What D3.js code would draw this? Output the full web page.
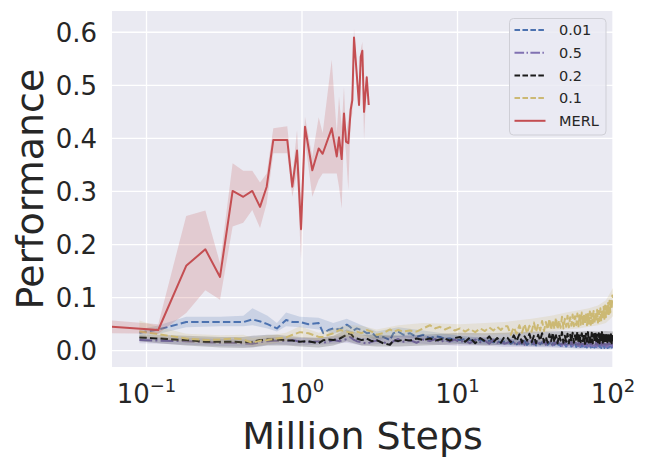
<!DOCTYPE html>
<html>
<head>
<meta charset="utf-8">
<script src="https://cdn.jsdelivr.net/npm/d3@7"></script>
<style>
  html, body { margin: 0; padding: 0; background: #fff; }
  svg { display: block; font-family: 'DejaVu Sans', sans-serif; }
</style>
</head>
<body>
<div id="chart"></div>
<script>
// baselines share one step grid (million steps)
const baseX = [0.09, 0.12, 0.18, 0.24, 0.3, 0.36, 0.42, 0.48, 0.54, 0.6,
  0.69, 0.79, 0.87, 0.97, 1.1, 1.28, 1.37, 1.48, 1.59, 1.75, 1.94, 2.04, 2.14, 2.25, 2.42, 2.61, 2.81, 3.02,
  3.33, 3.68, 3.87, 4.16, 4.48, 4.94, 5.45, 6.02, 6.65, 7.2, 7.71, 8.3, 8.93, 9.6, 10.4, 11.2, 12,
  13, 14, 15, 16, 17, 18, 19, 20,
  21, 22, 23, 24, 25, 26, 27, 28, 29, 30, 31, 32, 33, 34, 35, 36, 37, 38, 39, 40,
  41, 42, 43, 44, 45, 46, 47, 48, 49, 50, 51, 52, 53, 54, 55, 56, 57, 58, 59, 60,
  61, 62, 63, 64, 65, 66, 67, 68, 69, 70, 71, 72, 73, 74, 75, 76, 77, 78, 79, 80,
  81, 82, 83, 84, 85, 86, 87, 88, 89, 90, 91, 92, 93, 94, 95, 96, 97, 98, 99, 100]

const blue = [0.034, 0.040, 0.054, 0.054, 0.054, 0.054, 0.054, 0.059, 0.055, 0.050,
  0.042, 0.058, 0.054, 0.054, 0.050, 0.052, 0.033, 0.039, 0.042, 0.040, 0.049, 0.045, 0.038, 0.042, 0.039, 0.033, 0.034, 0.026,
  0.026, 0.020, 0.033, 0.036, 0.030, 0.033, 0.026, 0.030, 0.023, 0.027, 0.026, 0.022, 0.023, 0.020, 0.020, 0.022, 0.020,
  0.018, 0.021, 0.017, 0.019, 0.016, 0.018, 0.015, 0.017,
  0.018, 0.013, 0.017, 0.012, 0.016, 0.013, 0.018, 0.011, 0.015, 0.012, 0.016, 0.010, 0.015, 0.012, 0.016, 0.010, 0.014, 0.011, 0.015, 0.009,
  0.014, 0.011, 0.015, 0.010, 0.013, 0.009, 0.014, 0.010, 0.013, 0.008, 0.012, 0.010, 0.013, 0.008, 0.012, 0.009, 0.013, 0.007, 0.011, 0.009,
  0.012, 0.007, 0.011, 0.008, 0.012, 0.007, 0.010, 0.006, 0.011, 0.008, 0.010, 0.006, 0.011, 0.007, 0.010, 0.006, 0.009, 0.007, 0.010, 0.005,
  0.009, 0.007, 0.010, 0.005, 0.009, 0.006, 0.010, 0.005, 0.008, 0.007, 0.010, 0.005, 0.009, 0.006, 0.008, 0.005, 0.009, 0.006, 0.008, 0.007]

const purple = [0.020, 0.019, 0.018, 0.016, 0.015, 0.015, 0.014, 0.013, 0.016, 0.018,
  0.019, 0.018, 0.020, 0.017, 0.016, 0.018, 0.015, 0.017, 0.020, 0.018, 0.022, 0.026, 0.021, 0.018, 0.016, 0.013, 0.017, 0.019,
  0.016, 0.012, 0.018, 0.022, 0.017, 0.020, 0.015, 0.021, 0.018, 0.022, 0.016, 0.020, 0.017, 0.021, 0.016, 0.020, 0.014,
  0.021, 0.016, 0.019, 0.013, 0.020, 0.015, 0.018, 0.013,
  0.015, 0.019, 0.012, 0.018, 0.013, 0.020, 0.011, 0.017, 0.014, 0.019, 0.012, 0.018, 0.010, 0.016, 0.013, 0.019, 0.011, 0.017, 0.012, 0.018,
  0.010, 0.016, 0.013, 0.019, 0.011, 0.017, 0.009, 0.016, 0.012, 0.018, 0.010, 0.015, 0.012, 0.017, 0.009, 0.016, 0.011, 0.018, 0.010, 0.015,
  0.008, 0.016, 0.011, 0.017, 0.009, 0.015, 0.010, 0.016, 0.008, 0.014, 0.011, 0.017, 0.009, 0.015, 0.007, 0.014, 0.010, 0.016, 0.008, 0.013,
  0.010, 0.015, 0.007, 0.014, 0.009, 0.016, 0.008, 0.013, 0.010, 0.015, 0.007, 0.013, 0.009, 0.014, 0.008, 0.012, 0.010, 0.014, 0.008, 0.011]

const black = [0.025, 0.023, 0.020, 0.017, 0.017, 0.017, 0.016, 0.017, 0.020, 0.021,
  0.021, 0.020, 0.019, 0.017, 0.018, 0.014, 0.020, 0.021, 0.020, 0.023, 0.030, 0.033, 0.026, 0.023, 0.020, 0.023, 0.018, 0.020,
  0.014, 0.011, 0.020, 0.018, 0.021, 0.019, 0.023, 0.020, 0.023, 0.019, 0.021, 0.023, 0.019, 0.024, 0.026, 0.017, 0.025,
  0.014, 0.024, 0.018, 0.027, 0.016, 0.024, 0.015, 0.026,
  0.024, 0.016, 0.029, 0.018, 0.031, 0.015, 0.027, 0.019, 0.032, 0.016, 0.028, 0.014, 0.030, 0.019, 0.033, 0.016, 0.026, 0.015, 0.031, 0.018,
  0.034, 0.016, 0.029, 0.014, 0.030, 0.019, 0.035, 0.015, 0.028, 0.017, 0.032, 0.014, 0.030, 0.018, 0.034, 0.015, 0.029, 0.017, 0.036, 0.014,
  0.031, 0.016, 0.033, 0.018, 0.030, 0.013, 0.032, 0.017, 0.035, 0.015, 0.029, 0.016, 0.034, 0.014, 0.031, 0.018, 0.036, 0.015, 0.030, 0.016,
  0.033, 0.014, 0.031, 0.017, 0.035, 0.015, 0.030, 0.018, 0.034, 0.014, 0.032, 0.016, 0.029, 0.015, 0.033, 0.017, 0.031, 0.014, 0.030, 0.018]

const yellow = [0.036, 0.031, 0.023, 0.020, 0.021, 0.023, 0.021, 0.015, 0.019, 0.020,
  0.023, 0.025, 0.030, 0.035, 0.033, 0.026, 0.026, 0.030, 0.033, 0.039, 0.036, 0.034, 0.034, 0.036, 0.033, 0.039, 0.036, 0.030,
  0.033, 0.040, 0.036, 0.039, 0.036, 0.038, 0.036, 0.042, 0.048, 0.042, 0.045, 0.040, 0.044, 0.038, 0.042, 0.036, 0.041,
  0.035, 0.042, 0.037, 0.044, 0.038, 0.045, 0.039, 0.046,
  0.046, 0.030, 0.044, 0.032, 0.048, 0.034, 0.050, 0.033, 0.047, 0.036, 0.053, 0.035, 0.050, 0.038, 0.056, 0.037, 0.054, 0.040, 0.060, 0.039,
  0.058, 0.041, 0.062, 0.040, 0.057, 0.043, 0.064, 0.042, 0.060, 0.045, 0.066, 0.044, 0.063, 0.047, 0.068, 0.046, 0.065, 0.048, 0.070, 0.046,
  0.067, 0.049, 0.072, 0.047, 0.068, 0.050, 0.071, 0.048, 0.069, 0.051, 0.074, 0.049, 0.070, 0.052, 0.075, 0.050, 0.072, 0.054, 0.077, 0.053,
  0.075, 0.056, 0.080, 0.055, 0.078, 0.059, 0.083, 0.060, 0.085, 0.063, 0.088, 0.066, 0.090, 0.069, 0.094, 0.072, 0.098, 0.078, 0.104, 0.100]

// spread of the baseline runs, on a coarser grid
const bandX = [0.09, 0.12, 0.18, 0.3, 0.42, 0.48, 0.6, 0.69, 0.79, 0.97, 1.28, 1.59, 1.94, 2.42,
  3.02, 4.16, 6.02, 10.4, 15, 20, 30, 40, 50, 60, 70, 80, 90, 100]
const blueLo = [0.028, 0.032, 0.044, 0.046, 0.046, 0.048, 0.042, 0.036, 0.046, 0.044, 0.040, 0.032, 0.038, 0.030,
  0.020, 0.026, 0.022, 0.013, 0.012, 0.010, 0.008, 0.007, 0.005, 0.004, 0.004, 0.003, 0.003, 0.003]
const blueHi = [0.040, 0.048, 0.064, 0.064, 0.066, 0.080, 0.066, 0.052, 0.072, 0.064, 0.062, 0.052, 0.060, 0.048,
  0.036, 0.044, 0.038, 0.028, 0.024, 0.024, 0.020, 0.018, 0.016, 0.014, 0.014, 0.012, 0.013, 0.012]
const purpleLo = [0.014, 0.013, 0.011, 0.009, 0.008, 0.007, 0.011, 0.012, 0.011, 0.010, 0.011, 0.013, 0.015, 0.010,
  0.012, 0.014, 0.013, 0.009, 0.010, 0.007, 0.007, 0.006, 0.006, 0.004, 0.005, 0.003, 0.004, 0.004]
const purpleHi = [0.026, 0.025, 0.024, 0.022, 0.021, 0.020, 0.025, 0.026, 0.025, 0.024, 0.025, 0.027, 0.030, 0.024,
  0.026, 0.029, 0.028, 0.024, 0.026, 0.021, 0.022, 0.020, 0.021, 0.018, 0.019, 0.017, 0.018, 0.017]
const blackLo = [0.018, 0.014, 0.010, 0.006, 0.005, 0.006, 0.010, 0.010, 0.010, 0.008, 0.006, 0.010, 0.018, 0.010,
  0.008, 0.008, 0.010, 0.012, 0.010, 0.011, 0.010, 0.010, 0.011, 0.010, 0.011, 0.010, 0.010, 0.011]
const blackHi = [0.030, 0.030, 0.028, 0.026, 0.026, 0.028, 0.030, 0.030, 0.028, 0.026, 0.024, 0.028, 0.040, 0.030,
  0.030, 0.028, 0.030, 0.034, 0.033, 0.034, 0.036, 0.036, 0.037, 0.036, 0.037, 0.036, 0.037, 0.036]
const yellowLo = [0.025, 0.024, 0.015, 0.013, 0.012, 0.008, 0.012, 0.015, 0.018, 0.026, 0.018, 0.024, 0.026, 0.025,
  0.022, 0.028, 0.030, 0.030, 0.030, 0.031, 0.033, 0.036, 0.040, 0.042, 0.045, 0.048, 0.052, 0.065]
const yellowHi = [0.057, 0.045, 0.032, 0.029, 0.030, 0.024, 0.028, 0.031, 0.034, 0.046, 0.034, 0.042, 0.048, 0.047,
  0.040, 0.048, 0.052, 0.050, 0.052, 0.054, 0.060, 0.066, 0.072, 0.076, 0.080, 0.085, 0.095, 0.118]

// MERL has its own evaluation steps
const merlX = [0.06, 0.119, 0.18, 0.239, 0.297, 0.358, 0.419, 0.479, 0.537, 0.593, 0.654, 0.804, 0.866, 0.929,
  0.986, 1.045, 1.165, 1.28, 1.358, 1.553, 1.673, 1.73, 1.8, 1.862, 1.919, 1.985, 2.057, 2.107, 2.16,
  2.327, 2.386, 2.444, 2.506, 2.608, 2.686]
const merl = [0.045, 0.039, 0.160, 0.191, 0.139, 0.301, 0.290, 0.301, 0.271, 0.309, 0.397, 0.397, 0.309, 0.377,
  0.229, 0.422, 0.340, 0.381, 0.371, 0.419, 0.366, 0.402, 0.361, 0.447, 0.394, 0.391, 0.454, 0.472, 0.590,
  0.463, 0.554, 0.565, 0.450, 0.515, 0.463]
const merlLo = [0.033, 0.032, 0.071, 0.114, 0.096, 0.234, 0.241, 0.265, 0.231, 0.278, 0.372, 0.372, 0.290, 0.334,
  0.171, 0.397, 0.290, 0.322, 0.334, 0.334, 0.334, 0.309, 0.268, 0.410, 0.372, 0.303, 0.435, 0.447, 0.579,
  0.454, 0.535, 0.535, 0.397, 0.507, 0.457]
const merlHi = [0.057, 0.050, 0.254, 0.264, 0.165, 0.353, 0.339, 0.339, 0.317, 0.334, 0.419, 0.423, 0.328, 0.416,
  0.284, 0.441, 0.366, 0.440, 0.410, 0.548, 0.410, 0.479, 0.422, 0.497, 0.410, 0.435, 0.472, 0.497, 0.607,
  0.479, 0.567, 0.582, 0.479, 0.521, 0.469]

const labels = ['0.01', '0.5', '0.2', '0.1', 'MERL']
const xTicks = [-1, 0, 1, 2]
const yTicks = [0, 0.1, 0.2, 0.3, 0.4, 0.5, 0.6]

const series = [
  { label: labels[0], x: baseX, y: blue, bx: bandX, lo: blueLo, hi: blueHi, color: '#4C72B0', dash: '7.4,3.2' },
  { label: labels[1], x: baseX, y: purple, bx: bandX, lo: purpleLo, hi: purpleHi, color: '#8172B2', dash: '12.8,3.2,2,3.2' },
  { label: labels[2], x: baseX, y: black, bx: bandX, lo: blackLo, hi: blackHi, color: '#1A1A1A', dash: '7.4,3.2' },
  { label: labels[3], x: baseX, y: yellow, bx: bandX, lo: yellowLo, hi: yellowHi, color: '#CCB974', dash: '7.4,3.2' },
  { label: labels[4], x: merlX, y: merl, bx: merlX, lo: merlLo, hi: merlHi, color: '#C44E52', dash: null }
]

const width = 648
const height = 464
const plot = { left: 112, right: 613, top: 11, bottom: 367 }

const x = d3.scaleLog()
  .domain([0.06, 100])
  .range([plot.left, plot.right])

const y = d3.scaleLinear()
  .domain([-0.0307, 0.640])
  .range([plot.bottom, plot.top])

const svg = d3.select('#chart')
  .append('svg')
  .attr('width', width)
  .attr('height', height)

svg.append('defs')
  .append('clipPath')
  .attr('id', 'plot-clip')
  .append('rect')
  .attr('x', plot.left)
  .attr('y', plot.top)
  .attr('width', plot.right - plot.left)
  .attr('height', plot.bottom - plot.top)

// background + grid
svg.append('rect')
  .attr('x', plot.left)
  .attr('y', plot.top)
  .attr('width', plot.right - plot.left)
  .attr('height', plot.bottom - plot.top)
  .attr('fill', '#EAEAF2')

const grid = svg.append('g')
  .attr('stroke', '#fff')
  .attr('stroke-width', 1.3)

grid.selectAll('.gx')
  .data(xTicks)
  .join('line')
  .attr('x1', d => x(Math.pow(10, d)))
  .attr('x2', d => x(Math.pow(10, d)))
  .attr('y1', plot.top)
  .attr('y2', plot.bottom)

grid.selectAll('.gy')
  .data(yTicks)
  .join('line')
  .attr('x1', plot.left)
  .attr('x2', plot.right)
  .attr('y1', d => y(d))
  .attr('y2', d => y(d))

// curves
const marks = svg.append('g')
  .attr('clip-path', 'url(#plot-clip)')

series.forEach(s => {
  const band = d3.area()
    .x((d, i) => x(s.bx[i]))
    .y0((d, i) => y(s.lo[i]))
    .y1((d, i) => y(s.hi[i]))

  const line = d3.line()
    .x((d, i) => x(s.x[i]))
    .y(d => y(d))

  marks.append('path')
    .attr('d', band(s.lo))
    .attr('fill', s.color)
    .attr('fill-opacity', 0.2)

  marks.append('path')
    .attr('d', line(s.y))
    .attr('fill', 'none')
    .attr('stroke', s.color)
    .attr('stroke-width', 2)
    .attr('stroke-linejoin', 'round')
    .attr('stroke-dasharray', s.dash)
})

// axes text
const textColor = '#262626'

const xLabels = svg.append('g')
  .attr('fill', textColor)
  .attr('font-size', 26)

xLabels.selectAll('text')
  .data(xTicks)
  .join('text')
  .attr('x', d => x(Math.pow(10, d)))
  .attr('y', 403)
  .attr('text-anchor', 'middle')
  .each(function (d) {
    const t = d3.select(this)
    t.append('tspan').text('10')
    t.append('tspan')
      .attr('font-size', 18)
      .attr('dy', -11)
      .text(d < 0 ? '\u2212' + Math.abs(d) : d)
  })

svg.append('g')
  .attr('fill', textColor)
  .attr('font-size', 26)
  .selectAll('text')
  .data(yTicks)
  .join('text')
  .attr('x', 97)
  .attr('y', d => y(d))
  .attr('dy', '0.36em')
  .attr('text-anchor', 'end')
  .text(d => d.toFixed(1))

svg.append('text')
  .attr('x', (plot.left + plot.right) / 2)
  .attr('y', 449)
  .attr('text-anchor', 'middle')
  .attr('font-size', 38)
  .attr('fill', textColor)
  .text('Million Steps')

svg.append('text')
  .attr('transform', `translate(43, ${(plot.top + plot.bottom) / 2}) rotate(-90)`)
  .attr('text-anchor', 'middle')
  .attr('font-size', 38)
  .attr('fill', textColor)
  .text('Performance')

// legend
const legend = svg.append('g')
  .attr('transform', 'translate(509.5, 18.5)')

legend.append('rect')
  .attr('width', 96.5)
  .attr('height', 116.5)
  .attr('rx', 4)
  .attr('fill', '#EAEAF2')
  .attr('fill-opacity', 0.8)
  .attr('stroke', '#cfcfd6')

const rows = legend.selectAll('.row')
  .data(series)
  .join('g')
  .attr('transform', (d, i) => `translate(0, ${11.5 + i * 22.7})`)

rows.append('line')
  .attr('x1', 5)
  .attr('x2', 36)
  .attr('stroke', d => d.color)
  .attr('stroke-width', 2)
  .attr('stroke-dasharray', d => d.dash ? d.dash.split(',').map(v => v * 0.75).join(',') : null)

rows.append('text')
  .attr('x', 49.5)
  .attr('dy', '0.36em')
  .attr('font-size', 14.5)
  .attr('fill', textColor)
  .text(d => d.label)
</script>
</body>
</html>
